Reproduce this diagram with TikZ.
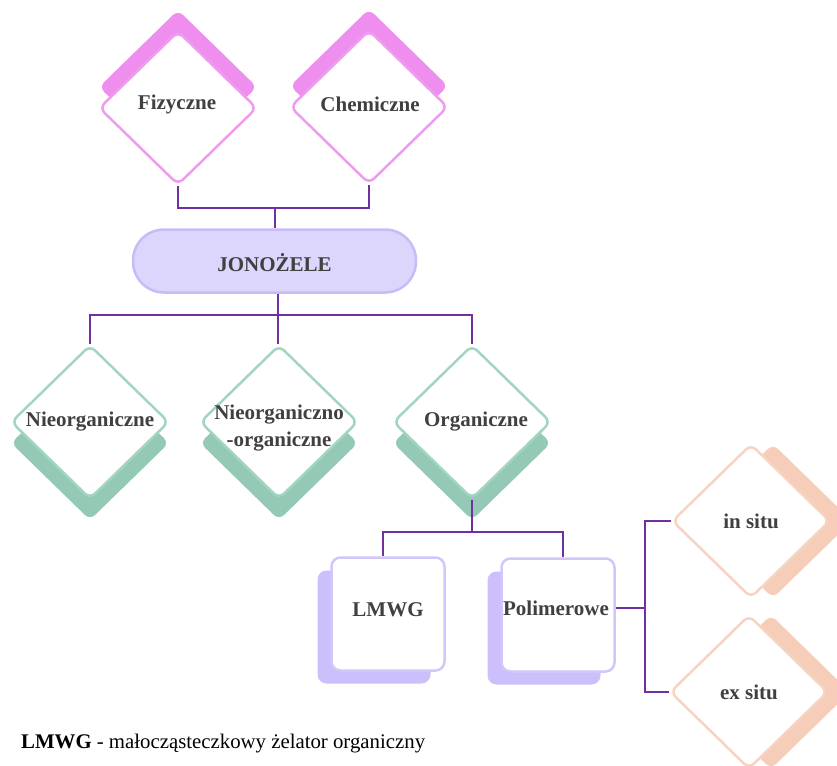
\documentclass[tikz,border=0pt]{standalone}
\usepackage{fontspec}
\setmainfont{Liberation Serif}
\usetikzlibrary{shapes.geometric,calc}
\definecolor{conn}{HTML}{7030A0}
\definecolor{txtgray}{HTML}{404040}
\definecolor{pinkS}{HTML}{EE8EEE}
\definecolor{pinkB}{HTML}{EF9CEF}
\definecolor{tealS}{HTML}{94C9B6}
\definecolor{tealB}{HTML}{A2D5C2}
\definecolor{lavS}{HTML}{CDBFFC}
\definecolor{lavB}{HTML}{D2C6FB}
\definecolor{jonoF}{HTML}{DCD5FC}
\definecolor{jonoB}{HTML}{C8BBF7}
\definecolor{peachS}{HTML}{F6CDB8}
\definecolor{peachB}{HTML}{F8D3C2}
\begin{document}
\begin{tikzpicture}[x=1pt,y=-1pt,
  dshape/.style={diamond, minimum width=158, minimum height=154, inner sep=0, rounded corners=7},
  dfront/.style={dshape, fill=white, line width=2.5},
  dshadow/.style={dshape, draw=none},
  bshape/.style={rectangle, minimum width=113, minimum height=113, inner sep=0, rounded corners=9},
  bfront/.style={bshape, fill=white, draw=lavB, line width=2.5},
  bshadow/.style={bshape, fill=lavS, draw=none},
  lbl/.style={font=\fontsize{21}{27}\selectfont\bfseries, text=txtgray, align=center, inner sep=0},
  cline/.style={draw=conn, line width=2.2}
]
\useasboundingbox (0,0) rectangle (837,765);

% top diamonds
\node[dshadow, fill=pinkS] (fizs) at (178,87) {};
\node[dfront, draw=pinkB] (fiz) at (178,108) {};
\node[lbl] (fizt) at (177,104) {Fizyczne};
\node[dshadow, fill=pinkS] (chems) at (369,86) {};
\node[dfront, draw=pinkB] (chem) at (369,107) {};
\node[lbl] (chemt) at (370,104) {Chemiczne};

% central pill
\node[rectangle, rounded corners=31, minimum width=283, minimum height=63, fill=jonoF, draw=jonoB, line width=2.5, inner sep=0] (jono) at (274.5,261) {};
\node[lbl] (jonot) at (274.5,263) {JONOŻELE};

% middle diamonds
\node[dshadow, fill=tealS] (nieos) at (90,443) {};
\node[dfront, draw=tealB] (nieo) at (90,422) {};
\node[lbl] (nieot) at (90,422) {Nieorganiczne};
\node[dshadow, fill=tealS] (nios) at (279,443) {};
\node[dfront, draw=tealB] (nio) at (279,422) {};
\node[lbl] (niot) at (279,428) {Nieorganiczno\\-organiczne};
\node[dshadow, fill=tealS] (orgs) at (472,443) {};
\node[dfront, draw=tealB] (org) at (472,422) {};
\node[lbl] (orgt) at (476,422) {Organiczne};

% boxes
\node[bshadow] (lmwgs) at (374,627) {};
\node[bfront] (lmwg) at (388,614) {};
\node[lbl] (lmwgt) at (388,610) {LMWG};
\node[bshadow] (polis) at (544,628) {};
\node[bfront] (poli) at (558,615) {};
\node[lbl] (polit) at (556,608) {Polimerowe};

% right diamonds
\node[dshadow, fill=peachS] (inss) at (773,521) {};
\node[dfront, draw=peachB] (ins) at (751,521) {};
\node[lbl] (inst) at (751,521) {in situ};
\node[dshadow, fill=peachS] (exss) at (771,692) {};
\node[dfront, draw=peachB] (exs) at (749,692) {};
\node[lbl] (exst) at (749,692) {ex situ};

% connectors
\coordinate (b1) at (275,208);
\draw[cline] (fiz.south) |- (b1) -| (chem.south);
\draw[cline] (b1) -- (b1 |- jono.north);
\coordinate (b2) at (278,315);
\draw[cline] (nieo.north) |- (b2) -| (org.north);
\draw[cline] (b2 |- jono.south) -- (b2) -- (b2 |- nio.north);
\coordinate (b3) at (472,532);
\draw[cline] (org.south) -- (b3);
\draw[cline] ([xshift=-5pt]lmwg.north) |- (b3) -| ([xshift=5pt]poli.north);
\coordinate (b4) at (645,608);
\draw[cline] ([yshift=7pt]poli.east) -- (b4);
\draw[cline] (ins.west) -| (b4) |- (exs.west);

% footnote
\node[anchor=west, font=\fontsize{20.8}{24}\selectfont, text=black, inner sep=0] (note) at (21,744) {\textbf{LMWG} - małocząsteczkowy żelator organiczny};
\end{tikzpicture}
\end{document}
